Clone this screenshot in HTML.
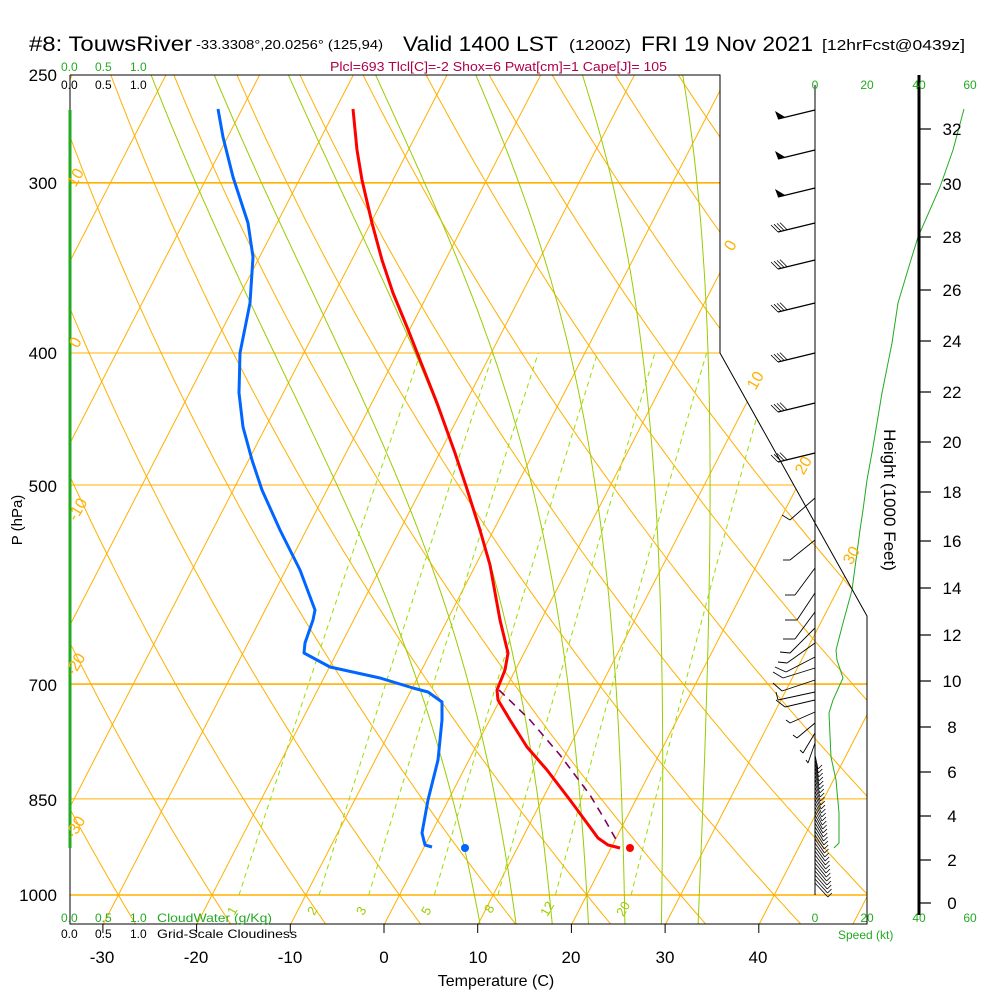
<!DOCTYPE html>
<html><head><meta charset="utf-8"><style>
html,body{margin:0;padding:0;background:#fff;}
svg{display:block;font-family:"Liberation Sans",sans-serif;}
</style></head><body>
<svg id="s" width="1000" height="1000" viewBox="0 0 1000 1000" xmlns="http://www.w3.org/2000/svg">
<defs><clipPath id="cp"><polygon points="70,75 720,75 720,353 867,616 867,924 70,924"/></clipPath></defs>
<rect width="1000" height="1000" fill="#fff"/>
<g id="grid" clip-path="url(#cp)"></g>
<g id="data"></g>
<polyline points="70,75 720,75 720,353 867,616 867,924 70,924 70,75" fill="none" stroke="#000" stroke-width="1"/>
<line x1="70" y1="110" x2="70" y2="848" stroke="#22aa22" stroke-width="3"/>
<line x1="815" y1="85" x2="815" y2="895" stroke="#000" stroke-width="1"/>
<line x1="919" y1="75" x2="919" y2="915" stroke="#000" stroke-width="3"/>
<g id="ticks"></g>
<text x="29" y="51" font-size="21" textLength="163" lengthAdjust="spacingAndGlyphs">#8: TouwsRiver</text>
<text x="196" y="49" font-size="13" textLength="187" lengthAdjust="spacingAndGlyphs">-33.3308°,20.0256° (125,94)</text>
<text x="403" y="51" font-size="21" textLength="155" lengthAdjust="spacingAndGlyphs">Valid 1400 LST</text>
<text x="569" y="50" font-size="15" textLength="62" lengthAdjust="spacingAndGlyphs">(1200Z)</text>
<text x="641" y="51" font-size="21" textLength="172" lengthAdjust="spacingAndGlyphs">FRI 19 Nov 2021</text>
<text x="822" y="50" font-size="15" textLength="143" lengthAdjust="spacingAndGlyphs">[12hrFcst@0439z]</text>
<text x="330" y="71" font-size="13" fill="#b0004a" textLength="337" lengthAdjust="spacingAndGlyphs">Plcl=693 Tlcl[C]=-2 Shox=6 Pwat[cm]=1 Cape[J]= 105</text>
<g font-size="12" fill="#22aa22"><text x="61" y="71">0.0</text><text x="95" y="71">0.5</text><text x="130" y="71">1.0</text></g>
<g font-size="12" fill="#000"><text x="61" y="89">0.0</text><text x="95" y="89">0.5</text><text x="130" y="89">1.0</text></g>
<g font-size="12" fill="#22aa22" text-anchor="middle"><text x="815" y="89">0</text><text x="867" y="89">20</text><text x="919" y="89">40</text><text x="970" y="89">60</text></g>
<g font-size="12" fill="#22aa22" text-anchor="middle"><text x="815" y="922">0</text><text x="867" y="922">20</text><text x="919" y="922">40</text><text x="970" y="922">60</text></g>
<text x="838" y="939" font-size="12" fill="#22aa22">Speed (kt)</text>
<g font-size="12" fill="#22aa22"><text x="61" y="922">0.0</text><text x="95" y="922">0.5</text><text x="130" y="922">1.0</text><text x="157" y="922" textLength="115" lengthAdjust="spacingAndGlyphs">CloudWater (g/Kg)</text></g>
<g font-size="12" fill="#000"><text x="61" y="938">0.0</text><text x="95" y="938">0.5</text><text x="130" y="938">1.0</text><text x="157" y="938" textLength="140" lengthAdjust="spacingAndGlyphs">Grid-Scale Cloudiness</text></g>
<g font-size="17" text-anchor="end" fill="#000">
<text x="57" y="81">250</text><text x="57" y="189">300</text><text x="57" y="359">400</text><text x="57" y="492">500</text><text x="57" y="691">700</text><text x="57" y="806">850</text><text x="57" y="901">1000</text>
</g>
<text transform="translate(22,520) rotate(-90)" font-size="15" text-anchor="middle">P (hPa)</text>
<g font-size="17" text-anchor="middle">
<text x="102" y="963">-30</text><text x="196" y="963">-20</text><text x="290" y="963">-10</text><text x="384" y="963">0</text><text x="478" y="963">10</text><text x="571" y="963">20</text><text x="665" y="963">30</text><text x="758" y="963">40</text>
</g>
<text x="496" y="986" font-size="16" text-anchor="middle">Temperature (C)</text>
<g font-size="17" text-anchor="middle">
<text x="952" y="909">0</text><text x="952" y="866">2</text><text x="952" y="822">4</text><text x="952" y="778">6</text><text x="952" y="733">8</text><text x="952" y="687">10</text><text x="952" y="641">12</text><text x="952" y="594">14</text><text x="952" y="547">16</text><text x="952" y="498">18</text><text x="952" y="448">20</text><text x="952" y="398">22</text><text x="952" y="347">24</text><text x="952" y="296">26</text><text x="952" y="243">28</text><text x="952" y="190">30</text><text x="952" y="135">32</text>
</g>
<text transform="translate(884,500) rotate(90)" font-size="17" text-anchor="middle">Height (1000 Feet)</text>
<g font-size="16" fill="#ffb000" text-anchor="middle">
<text transform="translate(80,180) rotate(-60)">10</text>
<text transform="translate(80,345) rotate(-60)">0</text>
<text transform="translate(82,512) rotate(-60)">-10</text>
<text transform="translate(80,667) rotate(-60)">-20</text>
<text transform="translate(80,830) rotate(-60)">-30</text>
<text transform="translate(735,248) rotate(-60)">0</text>
<text transform="translate(760,383) rotate(-60)">10</text>
<text transform="translate(808,468) rotate(-60)">20</text>
<text transform="translate(856,558) rotate(-60)">30</text>
</g>
<g font-size="13" fill="#99cc00" text-anchor="middle">
<text transform="translate(236,913) rotate(-60)">1</text>
<text transform="translate(316,913) rotate(-60)">2</text>
<text transform="translate(365,913) rotate(-60)">3</text>
<text transform="translate(430,913) rotate(-60)">5</text>
<text transform="translate(493,911) rotate(-60)">8</text>
<text transform="translate(551,911) rotate(-60)">12</text>
<text transform="translate(627,911) rotate(-60)">20</text>
</g>
<script>
(function(){
var NS="http://www.w3.org/2000/svg";
function el(parent,tag,a){var e=document.createElementNS(NS,tag);for(var k in a)e.setAttribute(k,a[k]);parent.appendChild(e);return e;}
function Y(p){return 895-591.5*Math.log(1000/p);}
var K=0.515;
function X(T,y){return 384+9.37*T+K*(925-y);}
var grid=document.getElementById('grid'),data=document.getElementById('data'),ticks=document.getElementById('ticks');
function pl(parent,pts,a){a.points=pts.map(function(q){return q[0].toFixed(1)+","+q[1].toFixed(1);}).join(" ");a.fill="none";return el(parent,"polyline",a);}
for(var T=-130;T<=50;T+=10){pl(grid,[[X(T,924),924],[X(T,75),75]],{stroke:"#ffb000","stroke-width":1});}
for(var th=-60;th<=160;th+=10){var pts=[];for(var p=1060;p>=245;p-=10){var Tk=(th+273.15)*Math.pow(p/1000,0.2857)-273.15;var y=Y(p);pts.push([X(Tk,y),y]);}pl(grid,pts,{stroke:"#ffb000","stroke-width":1});}
[300,400,500,700,850,1000].forEach(function(p){var y=Y(p);el(grid,"line",{x1:70,y1:y,x2:870,y2:y,stroke:"#ffb000","stroke-width":(p==300||p==700||p==1000)?1.6:1});});
function es(Tc){return 6.112*Math.exp(17.67*Tc/(Tc+243.5));}
function dTdp(Tk,p){var Tc=Tk-273.15;var e=es(Tc);var rs=0.622*e/(p-e);var Rd=287,cp=1004,L=2.5e6;return (Rd*Tk+L*rs)/(p*(cp+L*L*rs*0.622/(Rd*Tk*Tk)));}
for(var tw=8;tw<=32;tw+=4){
 var up=[],Tk=tw+273.15,p=1000,dp=2;
 while(p>=248){var y=Y(p);up.push([X(Tk-273.15,y),y]);Tk-=dTdp(Tk,p)*dp;p-=dp;}
 var dn=[];Tk=tw+273.15;p=1000;
 while(p<=1060){var y2=Y(p);dn.unshift([X(Tk-273.15,y2),y2]);Tk+=dTdp(Tk,p)*dp;p+=dp;}
 pl(grid,dn.concat(up),{stroke:"#99cc00","stroke-width":1});
}
[1,2,3,5,8,12,20].forEach(function(w){var pts=[];for(var p=1000;p>=400;p-=10){var e=w*p/(622+w);var l=Math.log(e/6.112);var Td=243.5*l/(17.67-l);var y=Y(p);pts.push([X(Td,y),y]);}pl(grid,pts,{stroke:"#99dd00","stroke-width":1,"stroke-dasharray":"5,4"});});
for(var t=-30;t<=40;t+=10){var x=384+9.37*t;el(ticks,"line",{x1:x,y1:924,x2:x,y2:933,stroke:"#000"});}
[903,860,816,772,727,681,635,588,541,492,442,392,341,290,237,184,129].forEach(function(y){el(ticks,"line",{x1:919,y1:y,x2:931,y2:y,stroke:"#000","stroke-width":1.2});});
pl(data,[[964,109],[953,150],[940,187],[918,237],[910,263],[898,303],[892,343],[882,393],[873,447],[867,480],[863,510],[860,530],[852,590],[843,623],[836,650],[837,660],[843,678],[833,700],[829,713],[831,757],[836,780],[839,813],[839,843],[834,848]],{stroke:"#22aa22","stroke-width":1});
[110,150,188,223,260,303,353,403,453].forEach(function(y,i){
 var xe=778,ye=y+9;el(data,"line",{x1:815,y1:y,x2:xe,y2:ye,stroke:"#000","stroke-width":1.2});
 if(i<3){el(data,"polygon",{points:xe+","+ye+" "+(xe+7)+","+(ye-2)+" "+(xe-3)+","+(ye-8),fill:"#000"});}
 else{for(var k=0;k<4;k++){var bx=xe+k*3,by=ye-k*0.8;el(data,"line",{x1:bx,y1:by,x2:bx-7,y2:by-7,stroke:"#000","stroke-width":0.8});}}
});
var lb=[[498,790,520,782,515],[540,790,560,783,560],[568,795,595,785,595],[593,797,620,785,620],[612,795,639,783,639],[628,790,653,780,652],[643,787,663,778,662],[657,786,672,775,667],[668,783,678,773,672],[680,782,691,773,683],[692,778,700,776,692],[700,785,707,776,700],[712,790,723,786,720],[723,797,738,793,735],[733,803,753,800,750],[743,808,763,806,760]];
lb.forEach(function(b){el(data,"line",{x1:815,y1:b[0],x2:b[1],y2:b[2],stroke:"#000","stroke-width":0.9});el(data,"line",{x1:b[1],y1:b[2],x2:b[3],y2:b[4],stroke:"#000","stroke-width":0.9});});
for(var y=755;y<=885;y+=4){var f=(y-755)/130;var xe2=818+f*10;el(data,"line",{x1:815,y1:y,x2:xe2,y2:y+14,stroke:"#000","stroke-width":0.8});el(data,"line",{x1:xe2,y1:y+14,x2:xe2+4,y2:y+10,stroke:"#000","stroke-width":0.8});}
pl(data,[[353,109],[357,150],[362,180],[372,223],[382,260],[393,293],[407,327],[420,360],[437,403],[455,453],[466,486],[480,530],[490,565],[500,620],[508,653],[505,670],[497,690],[498,700],[510,720],[527,747],[547,770],[570,800],[598,838],[608,845],[620,848]],{stroke:"#ff0000","stroke-width":3,"stroke-linejoin":"round"});
pl(data,[[499,690],[530,720],[560,755],[590,795],[605,820],[618,843]],{stroke:"#800060","stroke-width":1.6,"stroke-dasharray":"8,6"});
pl(data,[[218,109],[223,137],[233,177],[248,223],[253,257],[250,303],[240,353],[239,393],[243,427],[252,460],[262,490],[280,530],[300,570],[315,610],[313,620],[305,643],[304,653],[330,667],[380,678],[413,688],[428,692],[442,702],[442,720],[438,760],[428,800],[422,833],[425,845],[432,847]],{stroke:"#0066ff","stroke-width":3,"stroke-linejoin":"round"});
el(data,"circle",{cx:465,cy:848,r:4,fill:"#0066ff"});
el(data,"circle",{cx:630,cy:848,r:4,fill:"#ff0000"});
})();
</script>
</svg>
</body></html>
